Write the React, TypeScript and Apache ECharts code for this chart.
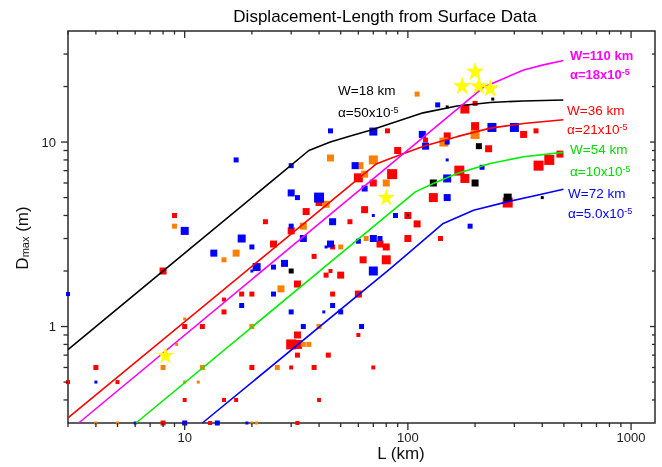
import React, { useEffect, useRef } from 'react';
import * as echarts from 'echarts';

const FONT = "'Liberation Sans', Arial, Helvetica, sans-serif";
const AXIS_COLOR = '#2a2a2a';

const X_MIN = 3;
const X_MAX = 1280;
const Y_MIN = 0.3;
const Y_MAX = 40;

const xMajorTicks = [10, 100, 1000];
const xMinorTicks = [3, 4, 5, 6, 7, 8, 9, 20, 30, 40, 50, 60, 70, 80, 90, 200, 300, 400, 500, 600, 700, 800, 900];
const yMajorTicks = [1, 10];
const yMinorTicks = [0.4, 0.5, 0.6, 0.7, 0.8, 0.9, 2, 3, 4, 5, 6, 7, 8, 9, 20, 30];

// [L (km), Dmax (m), marker size]
const redPoints = [
  [81, 11.5, 5], [90, 9.0, 7], [60, 6.4, 9], [85, 6.7, 10], [70, 6.0, 7], [40, 4.7, 7], [64, 4.3, 7],
  [9, 4.0, 5], [35, 4.2, 7], [23, 3.7, 5], [55, 3.7, 5], [30, 3.3, 7], [25, 2.8, 7], [46, 2.7, 5],
  [75, 2.8, 7], [80, 2.7, 7], [38, 2.4, 5], [63, 2.3, 7], [80, 2.3, 9], [45, 2.0, 4], [43, 1.9, 5],
  [50, 1.9, 7], [8, 2.0, 7], [32, 1.7, 7], [15, 1.4, 4], [18, 1.5, 5], [20, 1.5, 5], [46, 1.5, 5],
  [60, 1.5, 7], [15, 1.2, 5], [10, 1.0, 5], [12, 1.0, 5], [32, 0.9, 7], [60, 0.9, 4], [30, 0.8, 10],
  [32, 0.8, 9], [32, 0.7, 5], [44, 0.7, 5], [20, 0.6, 5], [30, 0.6, 4], [38, 0.6, 5], [70, 0.6, 4],
  [10, 0.4, 4], [15, 0.4, 4], [17, 0.4, 4], [40, 0.4, 4], [8, 0.3, 5], [13, 0.3, 4], [32, 0.3, 4],
  [4, 0.6, 5], [5, 0.5, 4], [3, 0.5, 4], [100, 4.0, 7], [110, 3.6, 7], [100, 3.0, 7], [140, 3.0, 5],
  [280, 4.7, 10], [130, 5.0, 9], [170, 7.0, 10], [180, 6.35, 9], [385, 7.45, 10], [430, 8.0, 10],
  [480, 8.6, 7], [200, 16.2, 5], [180, 15.1, 9], [200, 12.2, 8], [330, 11.0, 7], [375, 11.5, 5],
  [150, 10.8, 7], [120, 10.25, 5], [230, 9.2, 7],
];

const orangePoints = [
  [45, 8.2, 7], [61, 7.45, 7], [70, 8.0, 9], [64, 6.7, 7], [80, 6.0, 7], [43, 4.6, 7], [9, 3.5, 5],
  [34, 3.5, 7], [50, 2.7, 5], [65, 3.0, 5], [17, 2.5, 7], [15, 2.3, 5], [27, 1.6, 7], [10, 1.1, 3],
  [20, 1.0, 5], [40, 1.0, 5], [34, 0.8, 5], [36, 0.8, 5], [8, 0.6, 5], [12, 0.6, 5], [26, 0.6, 5],
  [9.2, 0.8, 3], [10, 0.5, 3], [11.5, 0.5, 3], [4, 0.3, 3], [5, 0.3, 3], [20, 0.3, 3], [21, 0.3, 3],
  [110, 18.2, 5], [200, 11.0, 9], [145, 10.0, 9],
];

const bluePoints = [
  [45, 11.5, 5], [70, 11.4, 8], [17, 8.0, 5], [30, 7.45, 5], [58, 7.45, 7], [64, 5.6, 6], [30, 5.3, 7],
  [32, 5.0, 5], [40, 5.0, 10], [70, 4.0, 3], [88, 4.0, 5], [10, 3.3, 8], [46, 3.7, 7], [30, 3.5, 5],
  [34, 3.0, 7], [18, 3.0, 8], [45, 2.8, 7], [43, 2.7, 3], [20, 2.7, 5], [60, 2.9, 5], [70, 3.0, 7],
  [75, 3.0, 5], [13.5, 2.5, 7], [21, 2.1, 8], [28, 2.2, 7], [25, 2.1, 5], [70, 2.0, 9], [20, 2.0, 3],
  [25, 1.5, 5], [18, 1.3, 5], [46, 1.3, 5], [30, 1.2, 5], [42, 1.2, 3], [50, 1.2, 5], [34, 1.0, 5],
  [62, 1.0, 5], [4, 0.5, 3], [6, 0.3, 3], [10, 0.3, 5], [14, 0.3, 5], [19, 0.3, 3], [3, 1.5, 4],
  [190, 3.5, 5], [150, 5.0, 7], [150, 6.35, 8], [215, 7.3, 5], [150, 8.0, 3], [136, 15.9, 5],
  [238, 12.0, 9], [300, 12.0, 9], [116, 11.0, 7], [120, 9.5, 7], [150, 10.0, 5],
];

const blackPoints = [
  [30, 2.0, 5], [100, 4.0, 2], [130, 6.0, 7], [200, 6.0, 7], [280, 5.0, 8], [400, 5.0, 3],
  [150, 15.5, 3], [240, 17.1, 3], [208, 9.5, 6],
];

const starPoints = [
  [175, 20.3, 18], [200, 24.3, 18], [208, 20.3, 18], [234, 19.7, 18], [80, 5.04, 17], [8.2, 0.7, 17],
];

// model curves [L (km), D (m)]
const curveW18 = [[3, 0.75], [36, 9.0], [44.9, 10.0], [55.2, 10.8], [67.9, 11.6], [87.8, 12.85], [117, 14.4], [166, 15.7], [234, 16.4], [329, 16.7], [497, 16.9]];
const curveW36 = [[3, 0.32], [72, 7.6], [83.4, 8.15], [117.6, 9.5], [166, 10.7], [234, 11.9], [330, 12.6], [498, 13.2]];
const curveW110 = [[3.35, 0.3], [218, 19.8], [330, 24.6], [405, 26.2], [498, 27.7]];
const curveW54 = [[6.05, 0.3], [108, 5.37], [130, 5.96], [166, 6.76], [234, 7.66], [330, 8.32], [498, 8.79]];
const curveW72 = [[12.0, 0.3], [83.4, 2.06], [144, 3.62], [197, 4.27], [278, 4.74], [392, 5.2], [498, 5.55]];

const STAR = 'path://M100 0 L122.5 69.1 L195.1 69.1 L136.3 111.8 L158.8 180.9 L100 138.2 L41.2 180.9 L63.7 111.8 L4.9 69.1 L77.5 69.1 Z';

const isPow10 = (v: number) => {
  const l = Math.log10(v);
  return Math.abs(l - Math.round(l)) < 1e-6;
};

function scatter(data: number[][], color: string, z: number, symbol = 'rect') {
  return {
    type: 'scatter',
    data,
    symbol,
    symbolSize: (v: number[]) => v[2],
    itemStyle: { color, opacity: 1 },
    z,
    silent: true,
  };
}

function curve(data: number[][], color: string) {
  return {
    type: 'line',
    data,
    showSymbol: false,
    symbol: 'none',
    lineStyle: { color, width: 1.6 },
    z: 6,
    silent: true,
  };
}

function annot(x: number, y: number, text: string, color: string, bold = false) {
  const fw = bold ? 'bold' : 'normal';
  const fs = bold ? 13 : 13.5;
  return {
    type: 'text',
    x,
    y,
    z: 100,
    silent: true,
    style: {
      text,
      fill: color,
      fontSize: fs,
      fontFamily: FONT,
      fontWeight: fw,
      align: 'left',
      verticalAlign: 'middle',
      rich: {
        m: { fontSize: fs, fontFamily: FONT, fontWeight: fw, fill: color },
        s: { fontSize: 9, fontFamily: FONT, fontWeight: fw, fill: color, verticalAlign: 'top' },
      },
    },
  };
}

export default function App() {
  const ref = useRef<HTMLDivElement>(null);

  useEffect(() => {
    if (!ref.current) return;
    const chart = echarts.init(ref.current, undefined, { renderer: 'svg' });

    const xTickData = [
      ...xMajorTicks.map((v) => [v, Y_MIN, 7, 7]),
      ...xMinorTicks.map((v) => [v, Y_MIN, 4, 3.5]),
    ];
    const yTickData = [
      ...yMajorTicks.map((v) => [X_MIN, v, 7, 5]),
      ...yMinorTicks.map((v) => [X_MIN, v, 4.5, 3]),
    ];

    const labelStyle = { fontSize: 13, color: '#1a1a1a', fontFamily: FONT };

    const option: any = {
      animation: false,
      grid: {
        left: 68, top: 31, right: 7, bottom: 44,
        show: true, borderColor: AXIS_COLOR, borderWidth: 1.5, backgroundColor: 'transparent',
      },
      xAxis: {
        type: 'log', logBase: 10, min: X_MIN, max: X_MAX,
        axisLine: { show: false }, axisTick: { show: false }, splitLine: { show: false },
        minorTick: { show: false }, minorSplitLine: { show: false },
        axisLabel: { ...labelStyle, margin: 8, formatter: (v: number) => (isPow10(v) ? String(Math.round(v)) : '') },
      },
      yAxis: {
        type: 'log', logBase: 10, min: Y_MIN, max: Y_MAX,
        axisLine: { show: false }, axisTick: { show: false }, splitLine: { show: false },
        minorTick: { show: false }, minorSplitLine: { show: false },
        axisLabel: { ...labelStyle, margin: 12, formatter: (v: number) => (isPow10(v) ? String(Math.round(v)) : '') },
      },
      series: [
        scatter(redPoints, '#ff0000', 2),
        scatter(orangePoints, '#ff8000', 3),
        scatter(bluePoints, '#0000ff', 4),
        scatter(blackPoints, '#000000', 5),
        curve(curveW18, '#000000'),
        curve(curveW36, '#ff0000'),
        curve(curveW110, '#ff00ff'),
        curve(curveW54, '#00ee00'),
        curve(curveW72, '#0000ff'),
        scatter(starPoints, '#ffff00', 8, STAR),
        {
          type: 'custom',
          data: xTickData,
          encode: { x: 0, y: 1 },
          clip: false,
          silent: true,
          z: 10,
          renderItem: (_p: any, api: any) => {
            const v = api.value(0);
            const lb = api.value(2);
            const lt = api.value(3);
            const b = api.coord([v, Y_MIN]);
            const t = api.coord([v, Y_MAX]);
            const st = { stroke: AXIS_COLOR, lineWidth: 1.3 };
            return {
              type: 'group',
              children: [
                { type: 'line', shape: { x1: b[0], y1: b[1], x2: b[0], y2: b[1] + lb }, style: st },
                { type: 'line', shape: { x1: t[0], y1: t[1], x2: t[0], y2: t[1] + lt }, style: st },
              ],
            };
          },
        },
        {
          type: 'custom',
          data: yTickData,
          encode: { x: 0, y: 1 },
          clip: false,
          silent: true,
          z: 10,
          renderItem: (_p: any, api: any) => {
            const v = api.value(1);
            const ll = api.value(2);
            const lr = api.value(3);
            const l = api.coord([X_MIN, v]);
            const r = api.coord([X_MAX, v]);
            const st = { stroke: AXIS_COLOR, lineWidth: 1.3 };
            return {
              type: 'group',
              children: [
                { type: 'line', shape: { x1: l[0] - ll, y1: l[1], x2: l[0], y2: l[1] }, style: st },
                { type: 'line', shape: { x1: r[0] - lr, y1: r[1], x2: r[0], y2: r[1] }, style: st },
              ],
            };
          },
        },
      ],
      graphic: [
        {
          type: 'text', x: 385, y: 16, silent: true,
          style: { text: 'Displacement-Length from Surface Data', fill: '#000', fontSize: 17, fontFamily: FONT, align: 'center', verticalAlign: 'middle' },
        },
        {
          type: 'text', x: 401, y: 453, silent: true,
          style: { text: 'L (km)', fill: '#111', fontSize: 17, fontFamily: FONT, align: 'center', verticalAlign: 'middle' },
        },
        {
          type: 'text', x: 22, y: 238, rotation: Math.PI / 2, silent: true,
          style: {
            text: 'D{sub|max} (m)', fill: '#111', fontSize: 17, fontFamily: FONT, align: 'center', verticalAlign: 'middle',
            rich: { sub: { fontSize: 11, fontFamily: FONT, fill: '#111', verticalAlign: 'bottom' } },
          },
        },
        annot(338, 90, 'W=18 km', '#000000'),
        annot(338, 112, 'α=50x10{s|-5}', '#000000'),
        annot(570, 55, 'W=110 km', '#ff00ff', true),
        annot(570, 74, 'α=18x10{s|-5}', '#ff00ff', true),
        annot(567, 110, 'W=36 km', '#ff0000'),
        annot(567, 129, 'α=21x10{s|-5}', '#ff0000'),
        annot(570, 149, 'W=54 km', '#00dd00'),
        annot(570, 171, 'α=10x10{s|-5}', '#00dd00'),
        annot(568, 193, 'W=72 km', '#0000ff'),
        annot(568, 213, 'α=5.0x10{s|-5}', '#0000ff'),
      ],
    };

    chart.setOption(option);
    return () => chart.dispose();
  }, []);

  return <div ref={ref} style={{ position: 'fixed', left: 0, top: 0, width: 662, height: 467 }} />;
}
